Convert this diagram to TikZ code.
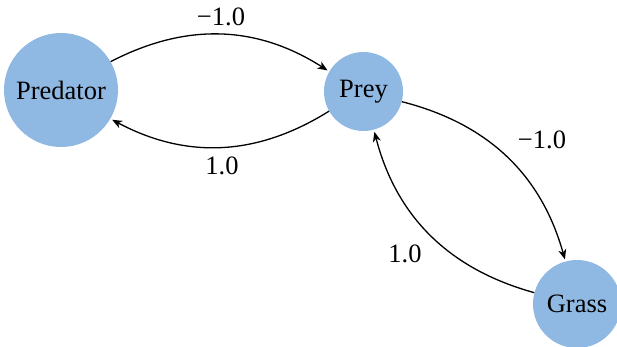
\documentclass[tikz,border=0pt]{standalone}
\usepackage{fontspec}
\setmainfont{Liberation Serif}
\usetikzlibrary{arrows.meta}
\definecolor{nodeblue}{RGB}{143,184,227}
\begin{document}
\begin{tikzpicture}[x=1pt,y=-1pt,
  species/.style={circle,fill=nodeblue,draw=none,inner sep=0pt,font=\fontsize{26.5}{30}\selectfont},
  wlabel/.style={inner sep=0pt,font=\fontsize{26.5}{30}\selectfont},
  arr/.style={-{Stealth[length=10pt,width=8pt,inset=3pt]},line width=1.3pt,shorten >=2pt}]
\useasboundingbox (0,0) rectangle (617,347);
\node[species,minimum size=114pt] (pred) at (61,90) {Predator};
\node[species,minimum size=79pt] (prey) at (363.5,91.5) {Prey};
\node[species,minimum size=88pt] (grass) at (577,304) {Grass};
\draw[arr] (pred) to[bend left=30] (prey);
\draw[arr] (prey) to[bend left=30] (pred);
\draw[arr] (prey) to[bend left=30] (grass);
\draw[arr] (grass) to[bend left=30] (prey);
\node[wlabel] (l1) at (221,17) {−1.0};
\node[wlabel] (l2) at (222,166) {1.0};
\node[wlabel] (l3) at (542,140) {−1.0};
\node[wlabel] (l4) at (405,254) {1.0};
\end{tikzpicture}
\end{document}
